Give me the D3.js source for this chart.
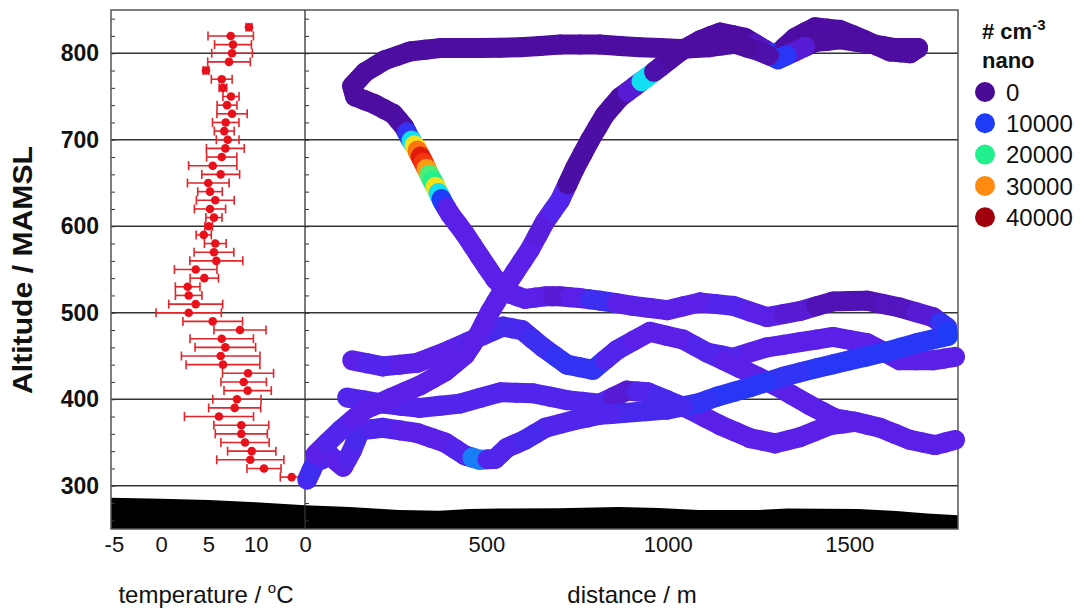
<!doctype html>
<html>
<head>
    <meta charset="utf-8">
    <title>Altitude profile</title>
    <script src="https://d3js.org/d3.v7.min.js"></script>
    <style type="text/css">
        html, body { margin: 0; background: #fff; }
        svg { display: block; font-family: Arial, "Liberation Sans", sans-serif; }
    </style>
</head>
<body>
<svg id="chart" width="1084" height="609"></svg>
<script type="text/javascript">
    // tick labels
    var altTicks = [300, 400, 500, 600, 700, 800];
    var distTicks = [0, 500, 1000, 1500];
    var tempTicks = [-5, 0, 5, 10];
    var legendValues = [0, 10000, 20000, 30000, 40000];

    // temperature profile: altitude, temperature, error
    var tempAlt = [830, 820, 810, 800, 790, 780, 770, 760, 750, 740, 730, 720, 710, 700,
        690, 680, 670, 660, 650, 640, 630, 620, 610, 600, 590, 580, 570, 560, 550, 540,
        530, 520, 510, 500, 490, 480, 470, 460, 450, 440, 430, 420, 410, 400, 390, 380,
        370, 360, 350, 340, 330, 320, 310];
    var tempVal = [9.28, 7.35, 7.59, 7.49, 7.17, 4.74, 6.40, 6.53, 7.38, 6.96, 7.49, 6.82, 6.67, 7.03,
        6.78, 6.40, 5.45, 6.29, 4.98, 5.16, 5.72, 5.16, 5.58, 5.02, 4.50, 5.72, 5.58, 5.83, 3.65, 4.56,
        2.80, 2.91, 3.65, 2.91, 5.45, 8.33, 6.40, 6.78, 6.29, 6.53, 9.18, 8.72, 9.14, 8.01, 7.77, 6.11,
        8.47, 8.47, 8.86, 9.57, 9.42, 10.87, 13.79];
    var tempErr = [0.3, 2.4, 1.95, 2.15, 2.25, 0.3, 1.1, 0.4, 0.85, 1.05, 1.6, 1.4, 1.05, 1.2,
        2.0, 1.6, 2.55, 2.0, 2.2, 1.3, 2.0, 1.65, 0.85, 0.4, 0.8, 1.15, 2.1, 2.8, 2.25, 1.5,
        1.3, 1.4, 2.85, 3.45, 3.15, 2.75, 3.35, 3.2, 4.15, 3.9, 2.7, 2.4, 2.5, 2.55, 2.75, 3.65,
        2.9, 2.75, 2.55, 2.55, 3.55, 1.8, 1.2];

    // ground profile (left panel in temperature units, right panel in metres)
    var terrainLeft = [[-5.3, 286], [0, 285], [5, 283.5], [10, 281], [15.2, 277.5]];
    var terrainRight = [[0, 277.5], [123, 275.4], [260, 272], [370, 271], [453, 273], [535, 273.6],
        [700, 274], [865, 275.4], [975, 274.2], [1085, 272], [1250, 272], [1330, 273.6],
        [1525, 273], [1630, 270.7], [1715, 267.8], [1800, 266]];

    // flight legs: distance (m), altitude (m), nano particles (# cm-3)
    var legBottom = [[6, 307, 6000], [28, 327, 7000], [69, 335, 5000], [105, 322, 4000],
        [130, 341, 5000], [152, 364, 6000], [215, 367, 5000], [309, 361, 4000], [386, 350, 4000],
        [441, 335, 5000], [482, 330, 12000], [524, 331, 5000], [557, 344, 5000], [606, 353, 5000]];
    var legLow = [[116, 402, 5000], [215, 395, 5000], [317, 390, 5000], [427, 395, 5000],
        [538, 408, 5000], [628, 407, 5000], [722, 399, 5000], [813, 395, 5000], [888, 410, 3000],
        [945, 408, 5000], [998, 399, 6000], [1061, 388, 5000], [1144, 370, 4000], [1227, 355, 4000],
        [1296, 349, 4000], [1364, 356, 4000], [1447, 370, 4000], [1516, 374, 4000], [1585, 367, 4000],
        [1668, 353, 4000], [1737, 347, 4000], [1792, 353, 4000]];
    var legMid = [[130, 445, 4000], [215, 438, 5000], [309, 442, 4000], [400, 457, 4000],
        [491, 474, 5000], [546, 484, 6000], [598, 480, 6000], [656, 460, 7000], [722, 440, 8000],
        [794, 434, 8000], [860, 457, 5000], [951, 478, 4000], [1042, 469, 4000], [1108, 454, 5000],
        [1180, 448, 5000], [1273, 460, 4000], [1364, 466, 4000], [1455, 472, 4000], [1549, 465, 4000],
        [1640, 445, 4000], [1731, 445, 4000], [1792, 449, 4000]];
    var legBranch = [[1108, 454, 5000], [1199, 436, 4000], [1296, 416, 4000], [1392, 393, 4000],
        [1461, 378, 4000], [1516, 374, 4000]];
    var legBlue = [[1772, 473, 10000], [1687, 465, 9000], [1593, 454, 9000], [1502, 445, 9000],
        [1411, 436, 9000], [1318, 426, 8000], [1227, 414, 9000], [1136, 403, 9000], [1089, 396, 8000],
        [998, 388, 6000], [877, 384, 6000], [813, 382, 5000], [744, 376, 5000], [662, 367, 5000],
        [606, 353, 6000]];
    var legLevel = [[606, 516, 4000], [662, 519, 4000], [703, 519, 3000], [758, 517, 4000],
        [813, 514, 7000], [904, 508, 4000], [998, 503, 4000], [1089, 512, 4000], [1180, 508, 5000],
        [1273, 495, 4000], [1364, 502, 3000], [1455, 513, 1500], [1549, 514, 1500], [1640, 506, 2000],
        [1731, 495, 3000], [1770, 483, 8000], [1772, 473, 10000]];
    var legClimb = [[28, 336, 4000], [97, 364, 5000], [165, 388, 4000], [234, 401, 4000],
        [317, 416, 4000], [386, 432, 4000], [441, 451, 4000], [477, 474, 4000], [510, 501, 4000],
        [543, 524, 4000], [579, 547, 4000], [620, 573, 4000], [661, 605, 3500], [703, 630, 5000],
        [744, 667, 800], [786, 700, 800], [827, 729, 800], [868, 749, 800], [910, 762, 3000],
        [945, 773, 15000], [979, 784, 1000], [1034, 802, 600], [1089, 815, 600], [1144, 824, 600],
        [1213, 818, 600], [1268, 804, 2000], [1296, 797, 9000], [1351, 818, 800], [1406, 830, 600],
        [1475, 827, 600], [1544, 815, 600], [1612, 802, 600], [1668, 800, 600], [1690, 806, 600]];
    var legReturn = [[1690, 806, 500], [1626, 806, 500], [1557, 811, 500], [1475, 816, 500],
        [1406, 813, 500], [1351, 802, 3000], [1304, 793, 9000], [1254, 802, 1000], [1185, 811, 500],
        [1116, 807, 500], [1034, 805, 500], [923, 807, 500], [813, 810, 500], [703, 810, 500],
        [593, 807, 500], [482, 806, 500], [372, 806, 500], [289, 802, 500], [220, 792, 500],
        [165, 778, 500], [130, 762, 500], [138, 750, 500], [193, 741, 500], [243, 730, 500],
        [273, 715, 800], [289, 702, 8000], [298, 696, 15000], [306, 691, 25000], [314, 684, 31000],
        [323, 677, 36000], [331, 670, 34000], [339, 663, 29000], [347, 656, 21000], [356, 649, 20000],
        [364, 642, 25000], [372, 635, 15000], [380, 628, 10000], [400, 614, 4000], [441, 591, 4000],
        [482, 565, 4000], [524, 539, 4000], [565, 522, 4000], [606, 516, 4000]];

    var svg = d3.select("#chart");
    var font = "Arial, 'Liberation Sans', sans-serif";
    var plain = function(d) { return String(d); };

    var xT = d3.scaleLinear().domain([-5.3, 15.2]).range([111, 305]);
    var xD = d3.scaleLinear().domain([0, 1800]).range([305, 958]);
    var y = d3.scaleLinear().domain([250, 850]).range([529, 10]);

    var color = d3.scaleLinear()
        .domain([0, 4000, 10000, 15000, 20000, 25000, 30000, 35000, 40000])
        .range(["#4a0a96", "#5b20e8", "#1e3cf8", "#12e0f2", "#22f08e", "#f2e21e", "#ff8a12", "#f2200c", "#a0000e"])
        .clamp(true);

    // grid lines
    svg.append("g").selectAll("line")
        .data(altTicks)
        .enter().append("line")
        .attr("x1", 111).attr("x2", 958)
        .attr("y1", function(d) { return y(d); })
        .attr("y2", function(d) { return y(d); })
        .attr("stroke", "#333").attr("stroke-width", 1.3);

    // ground
    var ground = terrainLeft.map(function(d) { return [xT(d[0]), y(d[1])]; })
        .concat(terrainRight.map(function(d) { return [xD(d[0]), y(d[1])]; }));
    svg.append("path")
        .datum(ground)
        .attr("fill", "#000")
        .attr("d", d3.area().x(function(d) { return d[0]; }).y0(y(250)).y1(function(d) { return d[1]; }));

    // minor ticks on left edge and on the divider
    var minor = d3.range(260, 850, 20);
    [111, 305].forEach(function(px) {
        svg.append("g").attr("transform", "translate(" + px + ",0)")
            .call(d3.axisRight(y).tickValues(minor).tickSize(4).tickFormat(""))
            .call(function(g) { g.select(".domain").remove(); g.selectAll("line").attr("stroke", "#333"); });
    });

    // frame and divider
    svg.append("rect").attr("x", 111).attr("y", 10).attr("width", 847).attr("height", 519)
        .attr("fill", "none").attr("stroke", "#555").attr("stroke-width", 1.5);
    svg.append("line").attr("x1", 305).attr("x2", 305).attr("y1", 10).attr("y2", 529)
        .attr("stroke", "#333").attr("stroke-width", 1.3);

    // temperature profile
    var temps = tempAlt.map(function(a, i) { return { alt: a, t: tempVal[i], e: tempErr[i] }; });
    var tg = svg.append("g").attr("stroke", "#e3242b").attr("stroke-width", 1.6);
    tg.selectAll(".bar").data(temps).enter().append("line")
        .attr("x1", function(d) { return xT(d.t - d.e); })
        .attr("x2", function(d) { return xT(d.t + d.e); })
        .attr("y1", function(d) { return y(d.alt); })
        .attr("y2", function(d) { return y(d.alt); });
    tg.selectAll(".capl").data(temps).enter().append("line")
        .attr("x1", function(d) { return xT(d.t - d.e); })
        .attr("x2", function(d) { return xT(d.t - d.e); })
        .attr("y1", function(d) { return y(d.alt) - 4.5; })
        .attr("y2", function(d) { return y(d.alt) + 4.5; });
    tg.selectAll(".capr").data(temps).enter().append("line")
        .attr("x1", function(d) { return xT(d.t + d.e); })
        .attr("x2", function(d) { return xT(d.t + d.e); })
        .attr("y1", function(d) { return y(d.alt) - 4.5; })
        .attr("y2", function(d) { return y(d.alt) + 4.5; });
    svg.append("g").selectAll("circle").data(temps).enter().append("circle")
        .attr("cx", function(d) { return xT(d.t); })
        .attr("cy", function(d) { return y(d.alt); })
        .attr("r", 4.3)
        .attr("fill", "#e8101a");

    // flight track, drawn as thick overlapping segments
    var legs = [legBottom, legLow, legMid, legBranch, legBlue, legLevel, legClimb, legReturn];
    var track = svg.append("g")
        .attr("fill", "none")
        .attr("stroke-width", 20)
        .attr("stroke-linecap", "round");
    legs.forEach(function(leg) {
        for (var i = 0; i < leg.length - 1; i++) {
            var x0 = xD(leg[i][0]), y0 = y(leg[i][1]);
            var x1 = xD(leg[i + 1][0]), y1 = y(leg[i + 1][1]);
            var xm = (x0 + x1) / 2, ym = (y0 + y1) / 2;
            track.append("line").attr("x1", x0).attr("y1", y0).attr("x2", xm).attr("y2", ym)
                .attr("stroke", color(leg[i][2]));
            track.append("line").attr("x1", xm).attr("y1", ym).attr("x2", x1).attr("y2", y1)
                .attr("stroke", color(leg[i + 1][2]));
        }
    });

    // axes
    svg.append("g").attr("transform", "translate(111,0)")
        .call(d3.axisLeft(y).tickValues(altTicks).tickSize(0).tickPadding(12).tickFormat(plain))
        .call(function(g) {
            g.select(".domain").remove();
            g.selectAll("text").attr("font-size", 23).attr("font-weight", "bold")
                .attr("font-family", font).attr("fill", "#111");
        });
    [[xT, tempTicks], [xD, distTicks]].forEach(function(a) {
        svg.append("g").attr("transform", "translate(0,529)")
            .call(d3.axisBottom(a[0]).tickValues(a[1]).tickSize(0).tickPadding(7).tickFormat(plain))
            .call(function(g) {
                g.select(".domain").remove();
                g.selectAll("text").attr("font-size", 22)
                    .attr("font-family", font).attr("fill", "#111");
            });
    });

    // axis titles
    svg.append("text")
        .attr("transform", "translate(32,270) rotate(-90)")
        .attr("text-anchor", "middle")
        .attr("font-size", 27).attr("font-weight", "bold").attr("fill", "#111")
        .attr("textLength", 248).attr("lengthAdjust", "spacingAndGlyphs")
        .text("Altitude / MAMSL");

    var tt = svg.append("text").attr("x", 206).attr("y", 603)
        .attr("text-anchor", "middle").attr("font-size", 24).attr("fill", "#111");
    tt.append("tspan").text("temperature / ");
    tt.append("tspan").attr("dy", -10).attr("font-size", 15).text("o");
    tt.append("tspan").attr("dy", 10).text("C");

    svg.append("text").attr("x", 632).attr("y", 603)
        .attr("text-anchor", "middle").attr("font-size", 24).attr("fill", "#111")
        .text("distance / m");

    // legend
    var lt = svg.append("text").attr("x", 982).attr("y", 39)
        .attr("font-size", 22).attr("font-weight", "bold").attr("fill", "#111");
    lt.append("tspan").text("# cm");
    lt.append("tspan").attr("dy", -9).attr("font-size", 15).text("-3");
    svg.append("text").attr("x", 982).attr("y", 68)
        .attr("font-size", 22).attr("font-weight", "bold").attr("fill", "#111")
        .text("nano");

    var lg = svg.append("g").selectAll("g").data(legendValues).enter().append("g")
        .attr("transform", function(d, i) { return "translate(985," + (92 + i * 31.3) + ")"; });
    lg.append("circle").attr("r", 10).attr("fill", function(d) { return color(d); });
    lg.append("text").attr("x", 21).attr("dy", "0.36em")
        .attr("font-size", 24).attr("fill", "#111")
        .text(function(d) { return d; });
</script>
</body>
</html>
